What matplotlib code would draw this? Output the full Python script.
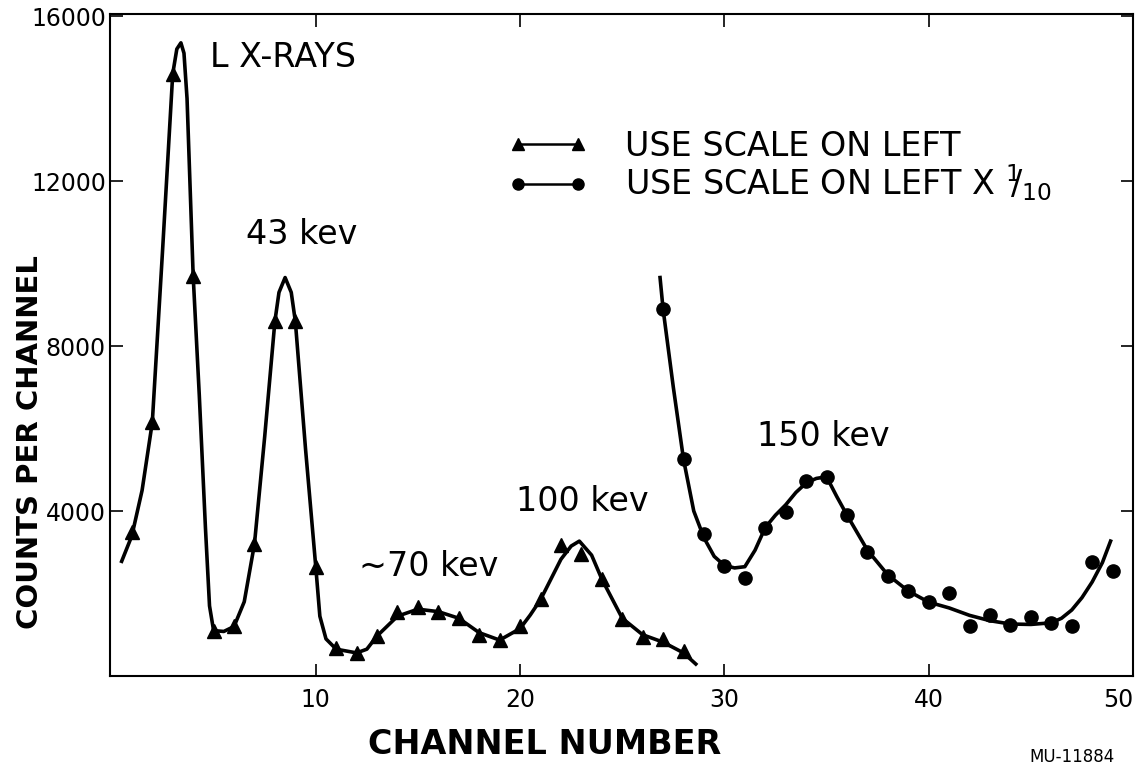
import matplotlib
matplotlib.use("Agg")
import matplotlib.pyplot as plt
from matplotlib.lines import Line2D
from matplotlib.legend_handler import HandlerLine2D

# measured points, scale on left (triangles)
tri_chan = list(range(1, 29))
tri_counts = [3490, 6150, 14600, 9700, 1100, 1200, 3200, 8600, 8600, 2650,
              680, 560, 970, 1550, 1670, 1550, 1400, 1000, 870, 1210,
              1860, 3170, 2950, 2350, 1380, 940, 900, 600]

# measured points, scale on left x 1/10 (circles)
circ_chan = list(range(27, 50))
circ_counts = [8890, 5250, 3440, 2660, 2370, 3600, 3970, 4720, 4820, 3900,
               3000, 2420, 2060, 1790, 2000, 1210, 1480, 1230, 1430, 1280,
               1210, 2760, 2540]

# hand drawn curves
tri_fit_chan = [0.5, 1, 1.5, 2, 2.5, 3, 3.2, 3.4, 3.55, 3.7, 4, 4.3, 4.6, 4.8,
                5, 5.5, 6, 6.5, 7, 7.5, 8, 8.2, 8.5, 8.8, 9, 9.5, 10, 10.2,
                10.5, 11, 12, 12.5, 13, 14, 15, 16, 17, 18, 19, 20, 20.5, 21,
                22, 22.5, 22.9, 23.5, 24, 25, 26, 27, 28, 28.6]
tri_fit_counts = [2780, 3400, 4500, 6150, 10300, 14600, 15200, 15350, 15100,
                  14000, 9700, 6800, 3600, 1700, 1100, 1080, 1200, 1800, 3200,
                  5800, 8600, 9300, 9660, 9300, 8600, 5500, 2650, 1450, 900,
                  650, 560, 650, 970, 1450, 1620, 1560, 1400, 1050, 870, 1150,
                  1480, 1850, 2830, 3150, 3270, 2930, 2350, 1400, 1000, 820,
                  560, 290]

circ_fit_chan = [26.85, 27, 27.5, 28, 28.5, 29, 29.5, 30, 30.5, 31, 31.5, 32,
                 32.5, 33, 33.5, 34, 34.5, 35, 35.5, 36, 37, 38, 39, 40, 41,
                 42, 43, 44, 45, 46, 46.5, 47, 47.5, 48, 48.5, 48.9]
circ_fit_counts = [9660, 8890, 7000, 5250, 4000, 3350, 2900, 2680, 2620, 2650,
                   3050, 3600, 3900, 4150, 4450, 4680, 4790, 4830, 4350, 3900,
                   3050, 2450, 2060, 1790, 1650, 1470, 1340, 1260, 1250, 1290,
                   1400, 1600, 1900, 2280, 2750, 3270]

peak_labels = ["L X-RAYS", "43 kev", "\u223c70 kev", "100 kev", "150 kev"]
peak_pos = [(4.8, 15000), (6.6, 10700), (12.1, 2660), (19.8, 4240), (31.6, 5810)]

xticks = [10, 20, 30, 40, 50]
yticks = [4000, 8000, 12000, 16000]

plt.rcParams["font.family"] = "DejaVu Sans"
plt.rcParams["mathtext.fontset"] = "dejavusans"

fig = plt.figure(figsize=(11.4, 7.68), dpi=100)
ax = fig.add_axes([0.0965, 0.1198, 0.8974, 0.862])

# fitted curves first, then the measured points on top
ax.plot(tri_fit_chan, tri_fit_counts, color="black", lw=2.6)
ax.plot(circ_fit_chan, circ_fit_counts, color="black", lw=2.6)
ax.plot(tri_chan, tri_counts, linestyle="none", marker="^", ms=10, color="black")
ax.plot(circ_chan, circ_counts, linestyle="none", marker="o", ms=9.5, color="black")

for txt, (x, y) in zip(peak_labels, peak_pos):
    ax.text(x, y, txt, fontsize=24, ha="left", va="center")

ax.set_xlim(-0.07, 49.73)
ax.set_ylim(0, 16050)
ax.set_xticks(xticks)
ax.set_yticks(yticks)
ax.set_xticklabels([str(t) for t in xticks], fontsize=17)
ax.set_yticklabels([str(t) for t in yticks], fontsize=17)
ax.get_xticklabels()[-1].set_ha("right")
ax.tick_params(direction="in", length=9, width=1.2, top=True, right=True)
ax.tick_params(axis="x", pad=9)
ax.tick_params(axis="y", pad=3)
for s in ax.spines.values():
    s.set_linewidth(1.5)

# legend
h_tri = Line2D([], [], color="black", lw=1.8, marker="^", ms=9)
h_circ = Line2D([], [], color="black", lw=1.8, marker="o", ms=8)
ax.legend([h_tri, h_circ],
          ["USE SCALE ON LEFT", r"USE SCALE ON LEFT X $^{1}\!\!/_{10}$"],
          loc="upper left", bbox_to_anchor=(0.381, 0.825), frameon=False,
          fontsize=24, numpoints=2, handlelength=2.9, handletextpad=0.85,
          labelspacing=0.0, borderpad=0, borderaxespad=0,
          handler_map={Line2D: HandlerLine2D(marker_pad=0.55)})

fig.text(0.478, 0.031, "CHANNEL NUMBER", fontsize=24, fontweight="bold",
         ha="center", va="center")
fig.text(0.026, 0.424, "COUNTS PER CHANNEL", fontsize=21, fontweight="bold",
         rotation=90, ha="center", va="center")
fig.text(0.94, 0.003, "MU-11884", fontsize=12, ha="center", va="bottom")

fig.savefig("out.png", dpi=100)
